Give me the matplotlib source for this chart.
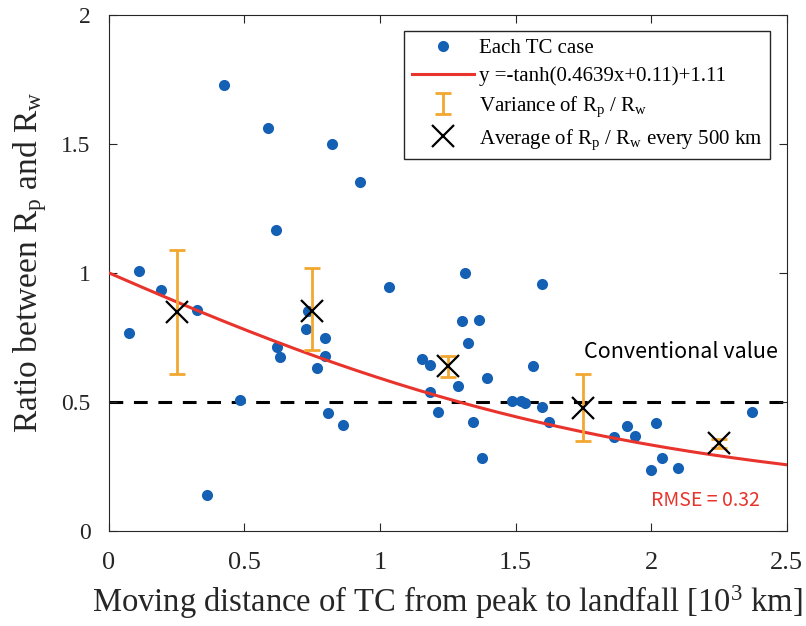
import numpy as np
import matplotlib as mpl
mpl.use('Agg')
import matplotlib.pyplot as plt

plt.rcParams['font.family'] = ['Liberation Serif', 'DejaVu Serif']
plt.rcParams['mathtext.fontset'] = 'custom'
plt.rcParams['mathtext.rm'] = 'Liberation Serif'
plt.rcParams['mathtext.it'] = 'Liberation Serif'
plt.rcParams['mathtext.default'] = 'regular'

# each TC case: moving distance [10^3 km], Rp/Rw
case_x = [0.074, 0.111, 0.192, 0.325, 0.361, 0.424, 0.483, 0.587, 0.616, 0.620,
          0.631, 0.729, 0.735, 0.766, 0.798, 0.798, 0.808, 0.864, 0.823, 0.926,
          1.034, 1.156, 1.184, 1.186, 1.213, 1.313, 1.301, 1.366, 1.325, 1.288,
          1.395, 1.344, 1.377, 1.488, 1.519, 1.536, 1.563, 1.596, 1.598, 1.623,
          1.863, 1.911, 1.940, 2.019, 1.998, 2.042, 2.100, 2.371]
case_y = [0.767, 1.008, 0.934, 0.857, 0.140, 1.729, 0.508, 1.562, 1.167, 0.713,
          0.674, 0.782, 0.853, 0.630, 0.749, 0.676, 0.457, 0.411, 1.500, 1.353,
          0.947, 0.668, 0.642, 0.540, 0.460, 0.999, 0.815, 0.818, 0.727, 0.562,
          0.592, 0.421, 0.284, 0.505, 0.505, 0.495, 0.641, 0.479, 0.959, 0.421,
          0.363, 0.407, 0.366, 0.417, 0.234, 0.282, 0.243, 0.459]

# average every 500 km with spread
bin_x = [0.25, 0.75, 1.25, 1.75, 2.25]
bin_mean = [0.848, 0.853, 0.640, 0.476, 0.340]
bin_low = [0.609, 0.702, 0.598, 0.350, 0.322]
bin_high = [1.089, 1.021, 0.678, 0.609, 0.358]

# fitted curve y = -tanh(a*x + b) + c
fit_a, fit_b, fit_c = 0.4639, 0.11, 1.11
conventional = 0.5
rmse = 0.32

blue = '#1460b4'
red = '#e8342c'
orange = '#f2a72e'
dark = '#262626'

fig = plt.figure(figsize=(8.06, 6.26), dpi=100)
ax = fig.add_axes([0.135, 0.152, 0.841, 0.824])

xx = np.linspace(0, 2.5, 300)
yy = -np.tanh(fit_a * xx + fit_b) + fit_c

ax.axhline(conventional, color='black', lw=2.2, ls=(0, (4.5, 3.5)), zorder=1)
h_case, = ax.plot(case_x, case_y, 'o', color=blue, ms=8, mec='none', zorder=2)
h_fit, = ax.plot(xx, yy, color=red, lw=2.2, zorder=3)
err = [np.array(bin_mean) - np.array(bin_low), np.array(bin_high) - np.array(bin_mean)]
h_var = ax.errorbar(bin_x, bin_mean, yerr=err, fmt='none', ecolor=orange, elinewidth=2,
                    capsize=6, capthick=2, zorder=4)
h_avg, = ax.plot(bin_x, bin_mean, 'x', color='black', ms=16, mew=1.6, zorder=5)

ax.text(1.752, 0.695, 'Conventional value', fontsize=15.5, family='Noto Sans CJK JP',
        va='center', ha='left', color='black')
ax.text(2.0, 0.116, 'RMSE = %.2f' % rmse, fontsize=14, family='Noto Sans CJK JP',
        color=red, va='center', ha='left')

ax.set_xlim(0, 2.5)
ax.set_ylim(0, 2)
ax.set_xticks([0, 0.5, 1, 1.5, 2, 2.5])
ax.set_xticklabels(['0', '0.5', '1', '1.5', '2', '2.5'])
ax.set_yticks([0, 0.5, 1, 1.5, 2])
ax.set_yticklabels(['0', '0.5', '1', '1.5', '2'])
ax.tick_params(direction='in', top=True, right=True, length=6,
               width=0.8, color=dark, labelcolor=dark)
ax.tick_params(axis='x', labelsize=19, pad=15)
ax.tick_params(axis='y', labelsize=17, pad=13)
for s in ax.spines.values():
    s.set_color(dark)
    s.set_linewidth(0.8)

ax.set_xlabel('Moving distance of TC from peak to landfall [10$^3$ km]', fontsize=23.5,
              color=dark)
ax.set_ylabel('Ratio between R$_p$ and R$_w$', fontsize=24, color=dark)
ax.xaxis.set_label_coords(0.5, -0.102)
ax.yaxis.set_label_coords(-0.088, 0.52)

ax.legend([h_case, h_fit, h_var, h_avg],
          ['Each TC case', 'y =-tanh(0.4639x+0.11)+1.11',
           'Variance of R$_p$ / R$_w$', 'Average of R$_p$ / R$_w$ every 500 km'],
          loc='upper left', bbox_to_anchor=(0.436, 0.969), fontsize=15,
          fancybox=False, edgecolor=dark, framealpha=1, borderaxespad=0,
          handlelength=3.0, labelspacing=0.4, handletextpad=0.25, borderpad=0.35)

plt.savefig('out.png', dpi=100)
